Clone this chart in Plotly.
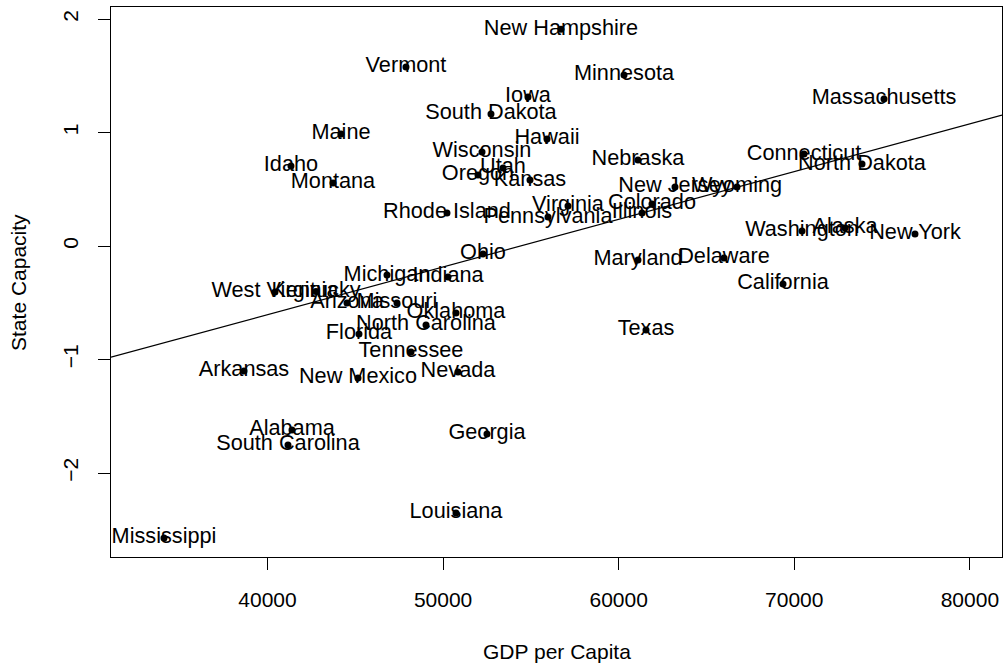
import numpy as np
import plotly.graph_objects as go

states = [
    "New Hampshire", "Vermont", "Iowa", "South Dakota", "Maine", "Hawaii",
    "Wisconsin", "Idaho", "Utah", "Oregon", "Kansas", "Montana", "Nebraska",
    "New Jersey", "Wyoming", "Connecticut", "North Dakota", "Massachusetts",
    "Minnesota", "Virginia", "Colorado", "Illinois", "Rhode Island",
    "Pennsylvania", "Washington", "Alaska", "New York", "Maryland", "Delaware",
    "California", "Texas", "Ohio", "Michigan", "Indiana", "West Virginia",
    "Kentucky", "Arizona", "Missouri", "Oklahoma", "North Carolina", "Florida",
    "Tennessee", "Arkansas", "New Mexico", "Nevada", "Alabama",
    "South Carolina", "Georgia", "Louisiana", "Mississippi",
]

gdp_per_capita = [
    56714, 47887, 54835, 52728, 44186, 55918,
    52216, 41338, 53412, 51988, 54950, 43730, 61100,
    63207, 66738, 70554, 73857, 75110,
    60303, 57113, 61897, 61328, 50222,
    55975, 70440, 72889, 76875, 61100, 65998,
    69358, 61556, 52273, 46806, 50280, 40427,
    42762, 44528, 47375, 50735, 49027, 45211,
    48172, 38662, 45154, 50849, 41395,
    41167, 52500, 50735, 34106,
]

state_capacity = [
    1.91, 1.577, 1.313, 1.163, 0.987, 0.943,
    0.828, 0.705, 0.687, 0.626, 0.581, 0.555, 0.758,
    0.520, 0.520, 0.810, 0.722, 1.295,
    1.507, 0.352, 0.370, 0.291, 0.291,
    0.255, 0.132, 0.159, 0.106, -0.123, -0.106,
    -0.335, -0.740, -0.070, -0.256, -0.273, -0.405,
    -0.400, -0.502, -0.502, -0.590, -0.696, -0.775,
    -0.934, -1.101, -1.163, -1.110, -1.621,
    -1.753, -1.656, -2.352, -2.573,
]

x_ticks = [40000, 50000, 60000, 70000, 80000]
y_ticks = [-2, -1, 0, 1, 2]
x_range = [31088, 81830]
y_range = [-2.74, 2.106]

FONT = "Liberation Sans, Arial, Helvetica, sans-serif"

# least-squares fit of capacity on GDP per capita
slope, intercept = np.polyfit(gdp_per_capita, state_capacity, 1)
fit_x = np.array(x_range)
fit_y = intercept + slope * fit_x

fig = go.Figure()

fig.add_trace(go.Scatter(
    x=fit_x, y=fit_y, mode="lines",
    line=dict(color="black", width=1.2),
    hoverinfo="skip", showlegend=False,
))

fig.add_trace(go.Scatter(
    x=gdp_per_capita, y=state_capacity,
    mode="markers+text",
    text=states,
    textposition="middle center",
    textfont=dict(family=FONT, size=21.7, color="black"),
    marker=dict(color="black", size=7),
    showlegend=False,
))

axis_common = dict(
    showgrid=False, zeroline=False,
    showline=True, mirror=True, linecolor="black", linewidth=1,
    ticks="outside", ticklen=12, tickwidth=1, tickcolor="black",
    tickfont=dict(family=FONT, size=21, color="black"),
)

fig.update_layout(
    width=1005, height=664,
    margin=dict(l=111, r=3, t=7, b=107),
    paper_bgcolor="white", plot_bgcolor="white",
    xaxis=dict(range=x_range, tickvals=x_ticks,
               ticktext=[str(v) for v in x_ticks],
               ticklabelstandoff=12, **axis_common),
    yaxis=dict(range=y_range, tickvals=y_ticks,
               ticktext=["\u22122", "\u22121", "0", "1", "2"],
               tickangle=-90, ticklabelstandoff=12, **axis_common),
    annotations=[
        dict(text="GDP per Capita", xref="paper", yref="paper",
             x=0.5, y=-0.1727, xanchor="center", yanchor="middle",
             showarrow=False, font=dict(family=FONT, size=21, color="black")),
        dict(text="State Capacity", xref="paper", yref="paper",
             x=-0.1044, y=0.5, xanchor="center", yanchor="middle",
             textangle=-90, showarrow=False,
             font=dict(family=FONT, size=21, color="black")),
    ],
)

fig.write_html("out.html")
